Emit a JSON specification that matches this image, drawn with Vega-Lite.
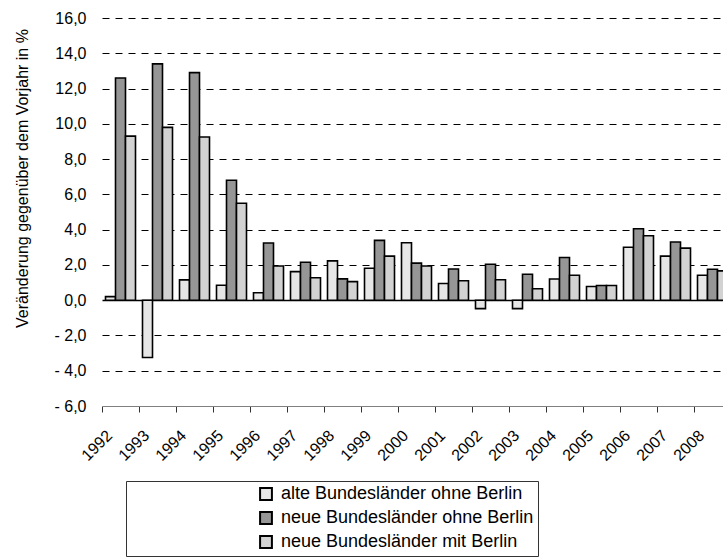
{
  "$schema": "https://vega.github.io/schema/vega-lite/v6.json",
  "autosize": {"type": "none"},
  "padding": {"left": 102, "top": 18, "right": 0, "bottom": 151},
  "width": 621,
  "height": 388,
  "config": {
    "view": {"stroke": null},
    "font": "Liberation Sans",
    "legend": {"strokeColor": "#333333", "fillColor": "white", "padding": 4}
  },
  "data": {
    "values": [
      {"year": "1992", "series": "alte Bundesländer ohne Berlin", "value": 0.2},
      {"year": "1992", "series": "neue Bundesländer ohne Berlin", "value": 12.6},
      {"year": "1992", "series": "neue Bundesländer mit  Berlin", "value": 9.3},
      {"year": "1993", "series": "alte Bundesländer ohne Berlin", "value": -3.25},
      {"year": "1993", "series": "neue Bundesländer ohne Berlin", "value": 13.4},
      {"year": "1993", "series": "neue Bundesländer mit  Berlin", "value": 9.8},
      {"year": "1994", "series": "alte Bundesländer ohne Berlin", "value": 1.15},
      {"year": "1994", "series": "neue Bundesländer ohne Berlin", "value": 12.9},
      {"year": "1994", "series": "neue Bundesländer mit  Berlin", "value": 9.25},
      {"year": "1995", "series": "alte Bundesländer ohne Berlin", "value": 0.85},
      {"year": "1995", "series": "neue Bundesländer ohne Berlin", "value": 6.8},
      {"year": "1995", "series": "neue Bundesländer mit  Berlin", "value": 5.5},
      {"year": "1996", "series": "alte Bundesländer ohne Berlin", "value": 0.42},
      {"year": "1996", "series": "neue Bundesländer ohne Berlin", "value": 3.24},
      {"year": "1996", "series": "neue Bundesländer mit  Berlin", "value": 1.94},
      {"year": "1997", "series": "alte Bundesländer ohne Berlin", "value": 1.62},
      {"year": "1997", "series": "neue Bundesländer ohne Berlin", "value": 2.15},
      {"year": "1997", "series": "neue Bundesländer mit  Berlin", "value": 1.27},
      {"year": "1998", "series": "alte Bundesländer ohne Berlin", "value": 2.23},
      {"year": "1998", "series": "neue Bundesländer ohne Berlin", "value": 1.21},
      {"year": "1998", "series": "neue Bundesländer mit  Berlin", "value": 1.05},
      {"year": "1999", "series": "alte Bundesländer ohne Berlin", "value": 1.81},
      {"year": "1999", "series": "neue Bundesländer ohne Berlin", "value": 3.39},
      {"year": "1999", "series": "neue Bundesländer mit  Berlin", "value": 2.5},
      {"year": "2000", "series": "alte Bundesländer ohne Berlin", "value": 3.26},
      {"year": "2000", "series": "neue Bundesländer ohne Berlin", "value": 2.1},
      {"year": "2000", "series": "neue Bundesländer mit  Berlin", "value": 1.94},
      {"year": "2001", "series": "alte Bundesländer ohne Berlin", "value": 0.95},
      {"year": "2001", "series": "neue Bundesländer ohne Berlin", "value": 1.77},
      {"year": "2001", "series": "neue Bundesländer mit  Berlin", "value": 1.1},
      {"year": "2002", "series": "alte Bundesländer ohne Berlin", "value": -0.48},
      {"year": "2002", "series": "neue Bundesländer ohne Berlin", "value": 2.04},
      {"year": "2002", "series": "neue Bundesländer mit  Berlin", "value": 1.16},
      {"year": "2003", "series": "alte Bundesländer ohne Berlin", "value": -0.48},
      {"year": "2003", "series": "neue Bundesländer ohne Berlin", "value": 1.47},
      {"year": "2003", "series": "neue Bundesländer mit  Berlin", "value": 0.65},
      {"year": "2004", "series": "alte Bundesländer ohne Berlin", "value": 1.2},
      {"year": "2004", "series": "neue Bundesländer ohne Berlin", "value": 2.42},
      {"year": "2004", "series": "neue Bundesländer mit  Berlin", "value": 1.41},
      {"year": "2005", "series": "alte Bundesländer ohne Berlin", "value": 0.78},
      {"year": "2005", "series": "neue Bundesländer ohne Berlin", "value": 0.83},
      {"year": "2005", "series": "neue Bundesländer mit  Berlin", "value": 0.83},
      {"year": "2006", "series": "alte Bundesländer ohne Berlin", "value": 3.0},
      {"year": "2006", "series": "neue Bundesländer ohne Berlin", "value": 4.05},
      {"year": "2006", "series": "neue Bundesländer mit  Berlin", "value": 3.65},
      {"year": "2007", "series": "alte Bundesländer ohne Berlin", "value": 2.5},
      {"year": "2007", "series": "neue Bundesländer ohne Berlin", "value": 3.3},
      {"year": "2007", "series": "neue Bundesländer mit  Berlin", "value": 2.95},
      {"year": "2008", "series": "alte Bundesländer ohne Berlin", "value": 1.41},
      {"year": "2008", "series": "neue Bundesländer ohne Berlin", "value": 1.75},
      {"year": "2008", "series": "neue Bundesländer mit  Berlin", "value": 1.66}
    ]
  },
  "mark": {"type": "bar", "stroke": "black", "strokeWidth": 1.6, "clip": true},
  "encoding": {
    "x": {
      "field": "year",
      "type": "nominal",
      "sort": null,
      "title": null,
      "scale": {
        "type": "band",
        "domain": ["1992","1993","1994","1995","1996","1997","1998","1999","2000","2001","2002","2003","2004","2005","2006","2007","2008"],
        "range": [0, 629],
        "paddingInner": 0,
        "paddingOuter": 0
      },
      "axis": {
        "orient": "bottom",
        "offset": 0,
        "domainColor": "#808080",
        "domainWidth": 1,
        "tickColor": "#333333",
        "tickSize": 6,
        "tickBand": "extent",
        "labelAngle": -45,
        "labelAlign": "right",
        "labelBaseline": "top",
        "labelOffset": -17,
        "labelPadding": 15,
        "labelFont": "Liberation Sans",
        "labelFontSize": 16,
        "labelColor": "black",
        "grid": false
      }
    },
    "xOffset": {
      "field": "series",
      "type": "nominal",
      "sort": null,
      "scale": {
        "domain": ["alte Bundesländer ohne Berlin", "neue Bundesländer ohne Berlin", "neue Bundesländer mit  Berlin"],
        "paddingInner": 0,
        "paddingOuter": 0.35
      }
    },
    "y": {
      "field": "value",
      "type": "quantitative",
      "scale": {"domain": [-6, 16], "nice": false, "zero": false},
      "axis": {
        "title": "Veränderung gegenüber dem Vorjahr in %",
        "titleFont": "Liberation Sans",
        "titleFontSize": 16,
        "titleFontWeight": "normal",
        "titleColor": "black",
        "titleAngle": -90,
        "titleAlign": "center",
        "titleBaseline": "middle",
        "titleX": -80,
        "titleY": 160,
        "values": [-6, -4, -2, 0, 2, 4, 6, 8, 10, 12, 14, 16],
        "labelExpr": "(datum.value < 0 ? '- ' : '') + replace(format(abs(datum.value), '.1f'), '.', ',')",
        "labelFont": "Liberation Sans",
        "labelFontSize": 16,
        "labelColor": "black",
        "labelPadding": 16,
        "ticks": false,
        "domain": false,
        "grid": true,
        "gridColor": "black",
        "gridWidth": {"condition": {"test": "datum.value === 0", "value": 1.6}, "value": 1},
        "gridDash": {"condition": {"test": "datum.value === 0", "value": []}, "value": [7, 6]},
        "gridOpacity": {"condition": {"test": "datum.value === -6", "value": 0}, "value": 1}
      }
    },
    "fill": {
      "field": "series",
      "type": "nominal",
      "sort": null,
      "scale": {
        "domain": ["alte Bundesländer ohne Berlin", "neue Bundesländer ohne Berlin", "neue Bundesländer mit  Berlin"],
        "range": ["#e6e6e6", "#969696", "#d2d2d2"]
      },
      "legend": {
        "orient": "none",
        "legendX": 24,
        "legendY": 463,
        "direction": "vertical",
        "title": null,
        "strokeColor": "#333333",
        "fillColor": "white",
        "padding": 4,
        "symbolType": "square",
        "symbolSize": 140,
        "symbolStrokeColor": "black",
        "symbolStrokeWidth": 2,
        "symbolOffset": 127,
        "labelFont": "Liberation Sans",
        "labelFontSize": 18,
        "labelColor": "black",
        "labelOffset": 6,
        "labelLimit": 600,
        "rowPadding": 4
      }
    }
  }
}
